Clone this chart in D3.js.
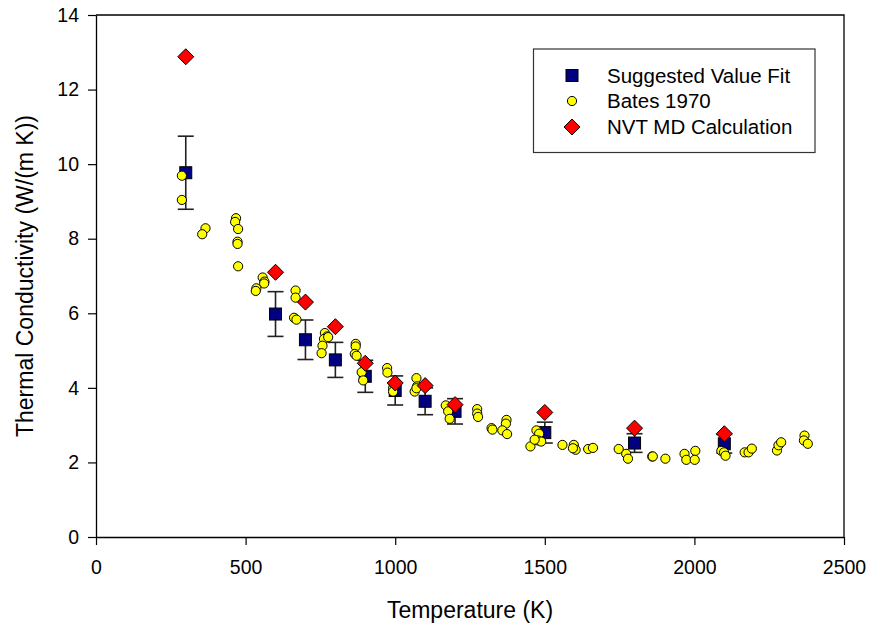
<!DOCTYPE html>
<html>
<head>
<meta charset="utf-8">
<script src="https://cdn.jsdelivr.net/npm/d3@7/dist/d3.min.js"></script>
<style>
  html, body { margin: 0; padding: 0; background: #fff; }
  svg { display: block; }
  text { font-family: "Liberation Sans", Arial, sans-serif; fill: #000; }
</style>
</head>
<body>
<svg id="chart" width="873" height="626"></svg>
<script>
// ---- Data ----
const fitTemps = [300, 600, 700, 800, 900, 1000, 1100, 1200, 1500, 1800, 2100];
const fitValues = [9.77, 5.98, 5.29, 4.75, 4.31, 3.93, 3.64, 3.37, 2.80, 2.52, 2.50];
const fitErrors = [0.98, 0.60, 0.53, 0.47, 0.43, 0.39, 0.36, 0.34, 0.28, 0.25, 0.25];

const mdTemps = [300, 600, 700, 800, 900, 1000, 1100, 1200, 1500, 1800, 2100];
const mdValues = [12.88, 7.10, 6.30, 5.64, 4.66, 4.13, 4.06, 3.55, 3.34, 2.92, 2.77];

const batesTemps = [287, 287, 366, 355, 468, 465, 475, 473, 473, 475,
  557, 563, 562, 536, 534, 667, 667, 662, 670,
  765, 773, 762, 757, 754, 776, 868, 868, 865, 871, 888, 893,
  973, 974, 993, 993, 1071, 1073, 1065, 1071,
  1169, 1177, 1182, 1274, 1274, 1277, 1322, 1325,
  1372, 1370, 1358, 1374, 1452, 1472, 1481, 1477, 1488, 1466,
  1559, 1597, 1603, 1594, 1645, 1661, 1747, 1772, 1778,
  1859, 1861, 1903, 1967, 1973, 2003, 2001, 2090, 2099, 2104,
  2168, 2181, 2192, 2276, 2281, 2290, 2368, 2366, 2379];
const batesValues = [9.69, 9.04, 8.28, 8.12, 8.55, 8.45, 8.26, 7.92, 7.86, 7.26,
  6.96, 6.85, 6.80, 6.67, 6.60, 6.61, 6.42, 5.88, 5.83,
  5.47, 5.38, 5.31, 5.13, 4.93, 5.36, 5.18, 5.11, 4.91, 4.86, 4.42, 4.20,
  4.53, 4.41, 3.98, 3.90, 4.26, 4.04, 3.90, 3.99,
  3.53, 3.37, 3.17, 3.43, 3.31, 3.22, 2.92, 2.88,
  3.14, 3.04, 2.86, 2.76, 2.43, 2.86, 2.77, 2.59, 2.56, 2.61,
  2.47, 2.47, 2.34, 2.38, 2.36, 2.39, 2.36, 2.23, 2.10,
  2.16, 2.16, 2.10, 2.23, 2.07, 2.31, 2.07, 2.31, 2.27, 2.18,
  2.27, 2.27, 2.37, 2.32, 2.46, 2.54, 2.72, 2.59, 2.50];

const xTicks = [0, 500, 1000, 1500, 2000, 2500];
const yTicks = [0, 2, 4, 6, 8, 10, 12, 14];
const legendLabels = ["Suggested Value Fit", "Bates 1970", "NVT MD Calculation"];
const xTitle = "Temperature (K)";
const yTitle = "Thermal Conductivity (W/(m K))";

// ---- Layout ----
const svg = d3.select("#chart");
const pL = 96, pR = 844, pT = 15, pB = 537;

const x = d3.scaleLinear().domain([0, 2500]).range([pL, pR]);
const y = d3.scaleLinear().domain([0, 14]).range([pB, pT]);

// Frame (top and right)
svg.append("path")
  .attr("d", `M${pL},${pT}H${pR}V${pB}`)
  .attr("fill", "none").attr("stroke", "#000").attr("stroke-width", 1.3);

// Axes
const xAxis = d3.axisBottom(x).tickValues(xTicks).tickFormat(d3.format("d"))
  .tickSize(8).tickPadding(15).tickSizeOuter(0);
const yAxis = d3.axisLeft(y).tickValues(yTicks).tickFormat(d3.format("d"))
  .tickSize(8).tickPadding(9).tickSizeOuter(0);

const gx = svg.append("g").attr("transform", `translate(0,${pB})`).call(xAxis);
const gy = svg.append("g").attr("transform", `translate(${pL},0)`).call(yAxis);
[gx, gy].forEach(g => {
  g.selectAll("path.domain").attr("stroke", "#000").attr("stroke-width", 1.3);
  g.selectAll(".tick line").attr("stroke", "#000").attr("stroke-width", 1.2);
  g.selectAll(".tick text")
    .style("font-family", '"Liberation Sans", Arial, sans-serif')
    .style("font-size", "19.5px").attr("fill", "#000");
});

// Axis titles
svg.append("text")
  .attr("x", (pL + pR) / 2).attr("y", 618)
  .attr("text-anchor", "middle").style("font-size", "23px")
  .text(xTitle);
svg.append("text")
  .attr("transform", `translate(33,${(pT + pB) / 2}) rotate(-90)`)
  .attr("text-anchor", "middle").style("font-size", "23px")
  .text(yTitle);

// Error bars + squares
const fit = fitTemps.map((t, i) => ({ t, v: fitValues[i], e: fitErrors[i] }));
const eb = svg.append("g").attr("stroke", "#222").attr("stroke-width", 1.6).attr("fill", "none");
fit.forEach(d => {
  const cx = x(d.t), y1 = y(d.v + d.e), y2 = y(d.v - d.e);
  eb.append("line").attr("x1", cx).attr("x2", cx).attr("y1", y1).attr("y2", y2);
  eb.append("line").attr("x1", cx - 8).attr("x2", cx + 8).attr("y1", y1).attr("y2", y1);
  eb.append("line").attr("x1", cx - 8).attr("x2", cx + 8).attr("y1", y2).attr("y2", y2);
});
const sq = 12;
svg.append("g").selectAll("rect").data(fit).join("rect")
  .attr("x", d => x(d.t) - sq / 2).attr("y", d => y(d.v) - sq / 2)
  .attr("width", sq).attr("height", sq)
  .attr("fill", "#000080").attr("stroke", "#000").attr("stroke-width", 1);

// Bates circles
const bates = batesTemps.map((t, i) => ({ t, v: batesValues[i] }));
svg.append("g").selectAll("circle").data(bates).join("circle")
  .attr("cx", d => x(d.t)).attr("cy", d => y(d.v)).attr("r", 4.6)
  .attr("fill", "#ffff00").attr("stroke", "#000").attr("stroke-width", 1);

// MD diamonds
const md = mdTemps.map((t, i) => ({ t, v: mdValues[i] }));
const dia = 8;
svg.append("g").selectAll("path").data(md).join("path")
  .attr("d", d => { const cx = x(d.t), cy = y(d.v);
    return `M${cx},${cy - dia}L${cx + dia},${cy}L${cx},${cy + dia}L${cx - dia},${cy}Z`; })
  .attr("fill", "#ff0000").attr("stroke", "#000").attr("stroke-width", 1);

// Legend
const lg = svg.append("g");
lg.append("rect").attr("x", 533.5).attr("y", 49).attr("width", 281.5).attr("height", 103.5)
  .attr("fill", "#fff").attr("stroke", "#333").attr("stroke-width", 1.2);
const ly = [75.5, 101, 127];
const mx = 572;
lg.append("rect").attr("x", mx - 6).attr("y", ly[0] - 6).attr("width", 12).attr("height", 12)
  .attr("fill", "#000080").attr("stroke", "#000");
lg.append("circle").attr("cx", mx).attr("cy", ly[1]).attr("r", 4.6)
  .attr("fill", "#ffff00").attr("stroke", "#000");
lg.append("path").attr("d", `M${mx},${ly[2] - 8}L${mx + 8},${ly[2]}L${mx},${ly[2] + 8}L${mx - 8},${ly[2]}Z`)
  .attr("fill", "#ff0000").attr("stroke", "#000");
legendLabels.forEach((s, i) => {
  lg.append("text").attr("x", 607).attr("y", ly[i]).attr("dy", "0.35em")
    .style("font-size", "20.5px").text(s);
});
</script>
</body>
</html>
